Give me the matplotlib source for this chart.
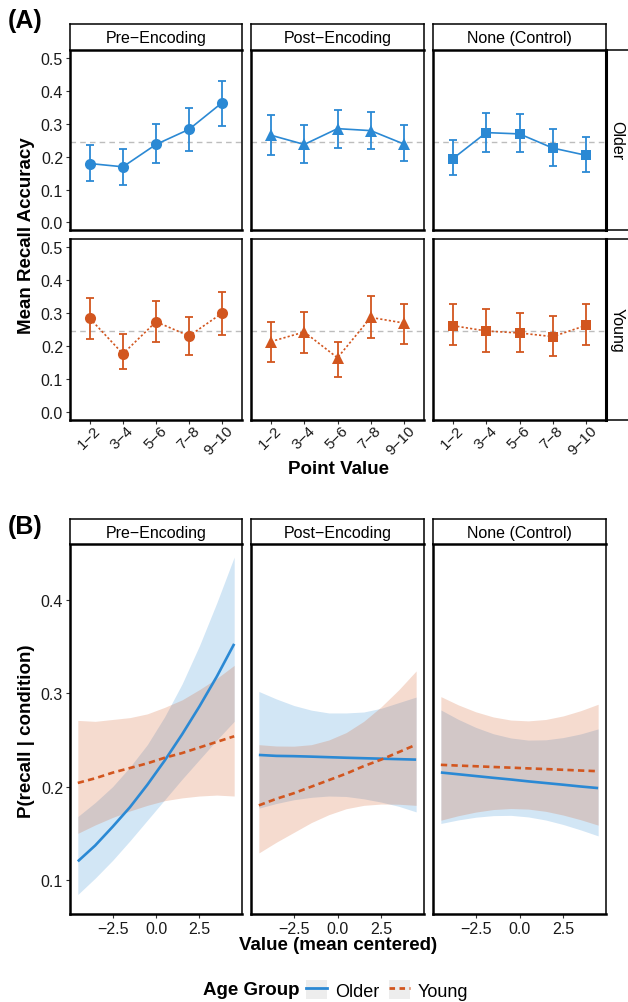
import matplotlib
matplotlib.use("Agg")
import matplotlib.pyplot as plt
from matplotlib.lines import Line2D
from matplotlib.patches import Rectangle
from matplotlib.transforms import ScaledTranslation
import numpy as np

plt.rcParams['font.family'] = ['Liberation Sans', 'DejaVu Sans']

# ---------------- DATA ----------------
conditions = ["Pre\u2212Encoding", "Post\u2212Encoding", "None (Control)"]
age_groups = ["Older", "Young"]
point_bins = ["1\u22122", "3\u22124", "5\u22126", "7\u22128", "9\u221210"]
chance_level = 0.245

# Panel A: mean recall accuracy and error bar limits
older_pre_mean = [0.179, 0.169, 0.237, 0.283, 0.364]
older_pre_lo   = [0.125, 0.113, 0.180, 0.217, 0.293]
older_pre_hi   = [0.234, 0.222, 0.298, 0.348, 0.429]
older_post_mean = [0.265, 0.237, 0.285, 0.279, 0.238]
older_post_lo   = [0.204, 0.182, 0.227, 0.222, 0.186]
older_post_hi   = [0.325, 0.296, 0.342, 0.337, 0.296]
older_none_mean = [0.194, 0.273, 0.269, 0.226, 0.204]
older_none_lo   = [0.143, 0.213, 0.213, 0.172, 0.154]
older_none_hi   = [0.249, 0.332, 0.328, 0.283, 0.260]

young_pre_mean = [0.284, 0.177, 0.274, 0.231, 0.300]
young_pre_lo   = [0.221, 0.130, 0.214, 0.173, 0.235]
young_pre_hi   = [0.347, 0.236, 0.337, 0.289, 0.364]
young_post_mean = [0.214, 0.243, 0.165, 0.287, 0.270]
young_post_lo   = [0.152, 0.179, 0.108, 0.224, 0.207]
young_post_hi   = [0.274, 0.302, 0.213, 0.351, 0.329]
young_none_mean = [0.262, 0.246, 0.240, 0.229, 0.263]
young_none_lo   = [0.203, 0.181, 0.181, 0.171, 0.203]
young_none_hi   = [0.327, 0.311, 0.300, 0.290, 0.327]

# Panel B: model predictions (value, mean centered)
value_centered = [-4.5, -3.5, -2.5, -1.5, -0.5, 0.5, 1.5, 2.5, 3.5, 4.5]

older_pre_fit = [0.120, 0.137, 0.157, 0.178, 0.202, 0.228, 0.256, 0.286, 0.318, 0.353]
older_pre_up  = [0.168, 0.183, 0.200, 0.221, 0.245, 0.275, 0.310, 0.351, 0.397, 0.446]
older_pre_dn  = [0.0845, 0.102, 0.121, 0.142, 0.164, 0.186, 0.208, 0.229, 0.250, 0.270]
young_pre_fit = [0.204, 0.209, 0.215, 0.220, 0.225, 0.231, 0.236, 0.242, 0.248, 0.254]
young_pre_up  = [0.271, 0.270, 0.272, 0.274, 0.278, 0.285, 0.293, 0.304, 0.316, 0.330]
young_pre_dn  = [0.150, 0.159, 0.167, 0.174, 0.180, 0.185, 0.188, 0.190, 0.191, 0.190]

older_post_fit = [0.234, 0.233, 0.2327, 0.2322, 0.2316, 0.231, 0.2305, 0.230, 0.2295, 0.229]
older_post_up  = [0.302, 0.294, 0.287, 0.282, 0.279, 0.279, 0.280, 0.284, 0.290, 0.296]
older_post_dn  = [0.177, 0.182, 0.186, 0.1886, 0.190, 0.1895, 0.187, 0.1835, 0.179, 0.173]
young_post_fit = [0.180, 0.187, 0.193, 0.200, 0.207, 0.214, 0.222, 0.229, 0.237, 0.245]
young_post_up  = [0.245, 0.2436, 0.2434, 0.245, 0.250, 0.258, 0.270, 0.2856, 0.3037, 0.324]
young_post_dn  = [0.129, 0.1405, 0.151, 0.1615, 0.170, 0.1764, 0.180, 0.1814, 0.1812, 0.180]

older_none_fit = [0.2152, 0.2133, 0.2114, 0.2095, 0.2077, 0.2057, 0.2039, 0.2021, 0.2002, 0.1985]
older_none_up  = [0.2822, 0.2721, 0.2635, 0.2567, 0.2522, 0.2499, 0.2502, 0.2526, 0.2565, 0.2619]
older_none_dn  = [0.1606, 0.1644, 0.1673, 0.1690, 0.1693, 0.1676, 0.1643, 0.1595, 0.1537, 0.1473]
young_none_fit = [0.2234, 0.2226, 0.2219, 0.2211, 0.2204, 0.2196, 0.2189, 0.2181, 0.2173, 0.2166]
young_none_up  = [0.2965, 0.2876, 0.2802, 0.2747, 0.2714, 0.2705, 0.2720, 0.2758, 0.2814, 0.2883]
young_none_dn  = [0.1641, 0.1689, 0.1728, 0.1755, 0.1766, 0.1760, 0.1736, 0.1696, 0.1646, 0.1588]

panelA = {
    "Older": [(older_pre_mean, older_pre_lo, older_pre_hi),
              (older_post_mean, older_post_lo, older_post_hi),
              (older_none_mean, older_none_lo, older_none_hi)],
    "Young": [(young_pre_mean, young_pre_lo, young_pre_hi),
              (young_post_mean, young_post_lo, young_post_hi),
              (young_none_mean, young_none_lo, young_none_hi)],
}
panelB = [
    {"Older": (older_pre_fit, older_pre_dn, older_pre_up), "Young": (young_pre_fit, young_pre_dn, young_pre_up)},
    {"Older": (older_post_fit, older_post_dn, older_post_up), "Young": (young_post_fit, young_post_dn, young_post_up)},
    {"Older": (older_none_fit, older_none_dn, older_none_up), "Young": (young_none_fit, young_none_dn, young_none_up)},
]

# ---------------- STYLE ----------------
BLUE = "#2B89D4"
ORANGE = "#D2561F"
colors = {"Older": BLUE, "Young": ORANGE}
markers = ["o", "^", "s"]
msizes = [8.0, 8.5, 7.3]

W, H = 628, 1003
fig = plt.figure(figsize=(W / 100, H / 100), dpi=100)


def rect(x0, x1, y0, y1):
    return [x0 / W, 1 - y1 / H, (x1 - x0) / W, (y1 - y0) / H]


cols = [(70, 242), (251, 424), (433, 606)]
rowsA = [(51, 231), (240, 421)]
TICK_COLOR = "#333333"
LABEL_COLOR = "#1a1a1a"
TICK_FS = 11.5


def style_axes(ax):
    for s in ["top", "right"]:
        ax.spines[s].set_linewidth(1.1)
    for s in ["left", "bottom"]:
        ax.spines[s].set_linewidth(1.8)
    for s in ax.spines.values():
        s.set_color("black")
    ax.tick_params(length=3, width=0.8, color=TICK_COLOR, labelsize=TICK_FS,
                   labelcolor=LABEL_COLOR, pad=2)


def col_strip(x0, x1, y0, y1, text):
    sax = fig.add_axes(rect(x0, x1, y0, y1))
    sax.set_xticks([]); sax.set_yticks([])
    for s in sax.spines.values():
        s.set_linewidth(1.1)
    sax.spines["bottom"].set_linewidth(1.8)
    sax.text(0.5, 0.47, text, ha="center", va="center", fontsize=11.5,
             transform=sax.transAxes, color="black")


def row_strip(y0, y1, text):
    sax = fig.add_axes(rect(606, 645, y0, y1))
    sax.set_xticks([]); sax.set_yticks([])
    for s in sax.spines.values():
        s.set_linewidth(1.1)
    sax.spines["left"].set_linewidth(2.2)
    sax.text(11 / 39, 0.5, text, ha="center", va="center", fontsize=11.5,
             rotation=-90, transform=sax.transAxes, color="black")


# ---------------- PANEL A ----------------
xpos = np.arange(1, len(point_bins) + 1)
for r, grp in enumerate(age_groups):
    y0, y1 = rowsA[r]
    for c, (x0, x1) in enumerate(cols):
        ax = fig.add_axes(rect(x0, x1, y0, y1))
        style_axes(ax)
        mean, lo, hi = panelA[grp][c]
        mean = np.array(mean); lo = np.array(lo); hi = np.array(hi)
        ax.axhline(chance_level, color="#BDBDBD", lw=1.0, ls=(0, (4, 3)), zorder=1)
        ls = "-" if grp == "Older" else (0, (1.3, 1.3))
        ax.plot(xpos, mean, color=colors[grp], lw=1.2, ls=ls, zorder=2)
        ax.errorbar(xpos, mean, yerr=[mean - lo, hi - mean], fmt="none",
                    ecolor=colors[grp], elinewidth=1.3, capsize=2.8, capthick=1.3, zorder=3)
        ax.plot(xpos, mean, ls="none", marker=markers[c], ms=msizes[c],
                color=colors[grp], markeredgewidth=0, zorder=4)
        ax.set_xlim(0.4, 5.6)
        ax.set_ylim(-0.023, 0.524)
        ax.set_yticks([0.0, 0.1, 0.2, 0.3, 0.4, 0.5])
        ax.set_yticklabels([f"{v:.1f}" for v in [0.0, 0.1, 0.2, 0.3, 0.4, 0.5]])
        ax.set_xticks(xpos)
        if c > 0:
            ax.tick_params(axis="y", left=False, labelleft=False)
        if r == 0:
            ax.tick_params(axis="x", bottom=False, labelbottom=False)
        else:
            ax.set_xticklabels(point_bins, rotation=45, ha="right", va="center",
                               rotation_mode="anchor", fontsize=11)
            ax.tick_params(axis="x", pad=3)
            shift = ScaledTranslation(6 / 72, 0, fig.dpi_scale_trans)
            for lab in ax.get_xticklabels():
                lab.set_transform(lab.get_transform() + shift)
        if r == 0:
            col_strip(x0, x1, 25, 51, conditions[c])
    row_strip(y0, y1, grp)

fig.text(27 / W, 1 - 236 / H, "Mean Recall Accuracy", rotation=90, ha="center",
         va="center", fontsize=13.5, fontweight="bold")
fig.text(338 / W, 1 - 469 / H, "Point Value", ha="center", va="center",
         fontsize=13.5, fontweight="bold")
fig.text(25 / W, 1 - 21 / H, "(A)", ha="center", va="center", fontsize=18,
         fontweight="bold")

# ---------------- PANEL B ----------------
xv = np.array(value_centered)
for c, (x0, x1) in enumerate(cols):
    ax = fig.add_axes(rect(x0, x1, 545, 915))
    style_axes(ax)
    for grp in age_groups:
        fit, dn, up = panelB[c][grp]
        ax.fill_between(xv, dn, up, color=colors[grp], alpha=0.21, lw=0, zorder=1)
    for grp in age_groups:
        fit, dn, up = panelB[c][grp]
        ls = "-" if grp == "Older" else (0, (2.4, 1.6))
        ax.plot(xv, fit, color=colors[grp], lw=1.9, ls=ls, zorder=3,
                solid_capstyle="butt", dash_capstyle="butt")
    ax.set_xlim(-4.95, 4.95)
    ax.set_ylim(0.0636, 0.46)
    ax.set_xticks([-2.5, 0.0, 2.5])
    ax.set_xticklabels(["\u22122.5", "0.0", "2.5"])
    ax.set_yticks([0.1, 0.2, 0.3, 0.4])
    ax.set_yticklabels(["0.1", "0.2", "0.3", "0.4"])
    if c > 0:
        ax.tick_params(axis="y", left=False, labelleft=False)
    col_strip(x0, x1, 520, 545, conditions[c])

fig.text(27 / W, 1 - 731 / H, "P(recall | condition)", rotation=90, ha="center",
         va="center", fontsize=13.5, fontweight="bold")
fig.text(338 / W, 1 - 946 / H, "Value (mean centered)", ha="center", va="center",
         fontsize=13.5, fontweight="bold")
fig.text(25 / W, 1 - 527 / H, "(B)", ha="center", va="center", fontsize=18,
         fontweight="bold")

# ---------------- LEGEND ----------------
fig.text(203 / W, 1 - 991 / H, "Age Group", ha="left", va="center", fontsize=13.5,
         fontweight="bold")
handles = []
for grp in age_groups:
    bg = Rectangle((0, 0), 1, 1, facecolor="#EDEDED", edgecolor="none")
    ln = Line2D([], [], color=colors[grp], lw=2.0,
                ls="-" if grp == "Older" else (0, (2.0, 1.6)))
    handles.append((bg, ln))
fig.legend(handles, age_groups, loc="center left",
           bbox_to_anchor=(306 / W, 1 - 991 / H), ncol=2, frameon=False,
           fontsize=13, handlelength=1.15, handleheight=1.25, handletextpad=0.45,
           columnspacing=0.55, borderaxespad=0, borderpad=0)

fig.savefig("out.png", dpi=100)
